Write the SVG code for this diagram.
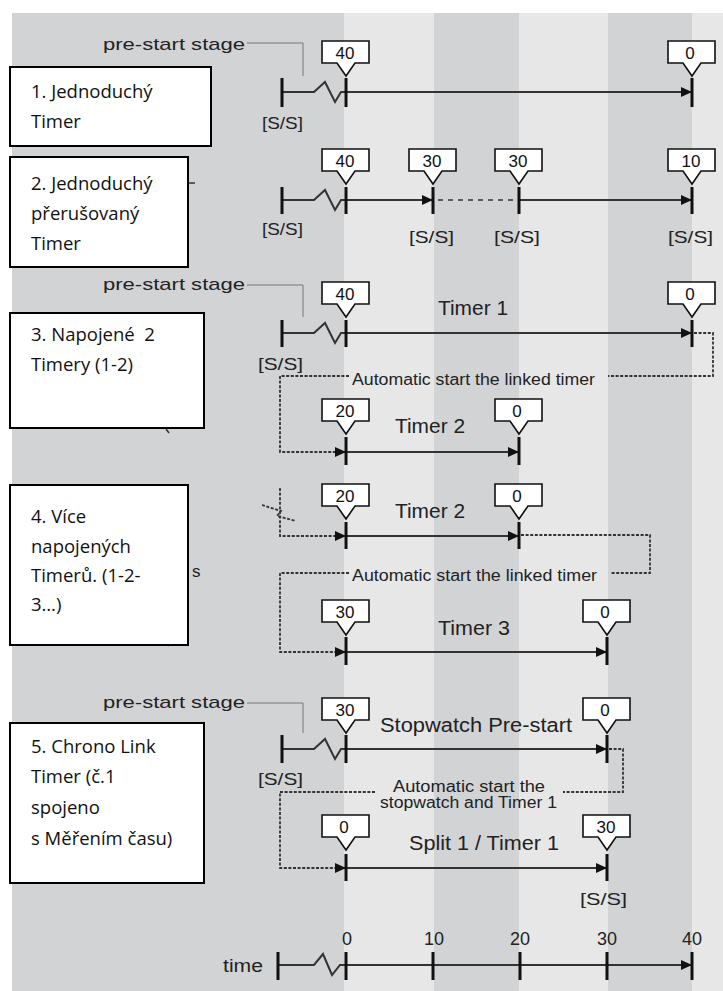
<svg xmlns="http://www.w3.org/2000/svg" xmlns:xlink="http://www.w3.org/1999/xlink" width="723" height="991" viewBox="0 0 723 991">
<style>
.lbl{font-family:"Liberation Sans",Arial,sans-serif;fill:#222;}
.num{font-family:"Liberation Sans",Arial,sans-serif;font-size:17px;fill:#111;text-anchor:middle;}
.box{fill:#fff;stroke:#111;stroke-width:1.6;}
.sh{fill:#666;}
.cz{font-family:"Open Sans","Noto Sans",sans-serif;font-size:18.5px;fill:#111;}
.ax{fill:none;stroke:#333;stroke-width:2;}
.tk{stroke:#111;stroke-width:3;}
.dash{fill:none;stroke:#333;stroke-width:1.8;stroke-dasharray:3 1.6;}
.lead{fill:none;stroke:#777;stroke-width:1;}
</style>
<defs>
<marker id="ar" markerUnits="userSpaceOnUse" markerWidth="12" markerHeight="12" refX="11" refY="5" orient="auto">
<path d="M0,0 L11,5 L0,10 z" fill="#111"/>
</marker>
<path id="mk" d="M-24,0 H23 V22 H9 L0,35 L-9,22 H-24 Z"/>
</defs>

<!-- background -->
<rect x="0" y="0" width="723" height="991" fill="#fff"/>
<rect x="12" y="13" width="711" height="978" fill="#d2d3d5"/>
<rect x="344" y="13" width="90" height="978" fill="#e7e7e8"/>
<rect x="519" y="13" width="89" height="978" fill="#e7e7e8"/>
<rect x="692" y="13" width="31" height="978" fill="#e7e7e8"/>

<!-- connectors -->
<g id="connectors">
<!-- row 1 -->
<path class="lead" d="M247,43 H303 V76"/>
<path class="ax" d="M282,92 H314 L325,82 L335,102 L341,92 H692" marker-end="url(#ar)"/>
<!-- row 2 -->
<path class="ax" d="M282,200 H314 L325,190 L335,210 L341,200 H433" marker-end="url(#ar)"/>
<path fill="none" stroke="#333" stroke-width="1.6" stroke-dasharray="5 5" d="M438,200 H519"/>
<path class="ax" d="M519,200 H692" marker-end="url(#ar)"/>
<path stroke="#333" stroke-width="1.5" d="M188,183 H195"/>
<!-- row 3 -->
<path class="lead" d="M247,285 H303 V317"/>
<path class="ax" d="M282,333 H314 L325,323 L335,343 L341,333 H692" marker-end="url(#ar)"/>
<path class="dash" d="M694,333 H713 V376 H608"/>
<path class="dash" d="M349,376 H280 V452 H346" marker-end="url(#ar)"/>
<!-- row 4 -->
<path class="ax" d="M346,452 H519" marker-end="url(#ar)"/>
<path stroke="#333" stroke-width="1.5" d="M166,429 L169,433"/>
<!-- row 5 -->
<path class="dash" d="M280,488 V536 H346" marker-end="url(#ar)"/>
<path class="dash" d="M262,505 L281,511 L277,516 L296,521"/>
<path class="ax" d="M346,536 H519" marker-end="url(#ar)"/>
<path class="dash" d="M521,535 H650 V573 H610"/>
<path class="dash" d="M349,573 H280 V652 H346" marker-end="url(#ar)"/>
<path stroke="#333" stroke-width="1.5" d="M166,642 L169,646"/>
<!-- row 6 -->
<path class="ax" d="M346,652 H607" marker-end="url(#ar)"/>
<!-- row 7 -->
<path class="lead" d="M247,703 H303 V733"/>
<path class="ax" d="M282,749 H314 L325,739 L335,759 L341,749 H607" marker-end="url(#ar)"/>
<path class="dash" d="M609,749 H623 V792 H563"/>
<path class="dash" d="M375,792 H280 V868 H346" marker-end="url(#ar)"/>
<!-- row 8 -->
<path class="ax" d="M346,868 H607" marker-end="url(#ar)"/>
<!-- time axis -->
<path class="ax" d="M278,965 H314 L323,954 L332,975 L340,965 H692" marker-end="url(#ar)"/>
</g>

<!-- ticks -->
<g id="ticks">
<path class="tk" d="M282,78 V107 M346,78 V107 M692,78 V107"/>
<path class="tk" d="M282,187 V214 M346,187 V214 M433,187 V214 M519,187 V214 M692,187 V214"/>
<path class="tk" d="M282,320 V347 M346,320 V347 M692,320 V347"/>
<path class="tk" d="M346,437 V465 M519,437 V465"/>
<path class="tk" d="M346,522 V549 M519,522 V549"/>
<path class="tk" d="M346,637 V665 M607,637 V665"/>
<path class="tk" d="M282,735 V763 M346,735 V763 M607,735 V763"/>
<path class="tk" d="M346,854 V881 M607,854 V881"/>
<path class="tk" d="M278,952 V980 M346,952 V980 M433,952 V980 M520,952 V980 M607,952 V980 M692,952 V980"/>
</g>

<!-- markers -->
<g id="markers">
<use href="#mk" class="box" x="346" y="41"/><text class="num" x="345" y="59">40</text>
<use href="#mk" class="box" x="692" y="41"/><text class="num" x="690" y="59">0</text>
<use href="#mk" class="box" x="346" y="149"/><text class="num" x="345" y="167">40</text>
<use href="#mk" class="box" x="433" y="149"/><text class="num" x="432" y="167">30</text>
<use href="#mk" class="box" x="519" y="149"/><text class="num" x="518" y="167">30</text>
<use href="#mk" class="box" x="692" y="149"/><text class="num" x="691" y="167">10</text>
<use href="#mk" class="box" x="346" y="282"/><text class="num" x="345" y="300">40</text>
<use href="#mk" class="box" x="692" y="282"/><text class="num" x="690" y="300">0</text>
<use href="#mk" class="box" x="346" y="399"/><text class="num" x="345" y="417">20</text>
<use href="#mk" class="box" x="519" y="399"/><text class="num" x="517" y="417">0</text>
<use href="#mk" class="box" x="346" y="484"/><text class="num" x="345" y="502">20</text>
<use href="#mk" class="box" x="519" y="484"/><text class="num" x="517" y="502">0</text>
<use href="#mk" class="box" x="346" y="600"/><text class="num" x="345" y="618">30</text>
<use href="#mk" class="box" x="607" y="600"/><text class="num" x="605" y="618">0</text>
<use href="#mk" class="box" x="346" y="698"/><text class="num" x="345" y="716">30</text>
<use href="#mk" class="box" x="607" y="698"/><text class="num" x="605" y="716">0</text>
<use href="#mk" class="box" x="346" y="815"/><text class="num" x="344" y="833">0</text>
<use href="#mk" class="box" x="607" y="815"/><text class="num" x="606" y="833">30</text>
</g>

<!-- diagram labels -->
<g id="labels">
<text class="lbl" x="103" y="50" font-size="17" textLength="142" lengthAdjust="spacingAndGlyphs">pre-start stage</text>
<text class="lbl" x="262" y="129" font-size="17" textLength="41" lengthAdjust="spacingAndGlyphs">[S/S]</text>
<text class="lbl" x="262" y="235" font-size="17" textLength="41" lengthAdjust="spacingAndGlyphs">[S/S]</text>
<text class="lbl" x="409" y="243" font-size="17" textLength="45" lengthAdjust="spacingAndGlyphs">[S/S]</text>
<text class="lbl" x="494" y="243" font-size="17" textLength="46" lengthAdjust="spacingAndGlyphs">[S/S]</text>
<text class="lbl" x="668" y="243" font-size="17" textLength="45" lengthAdjust="spacingAndGlyphs">[S/S]</text>
<text class="lbl" x="103" y="290" font-size="17" textLength="142" lengthAdjust="spacingAndGlyphs">pre-start stage</text>
<text class="lbl" x="438" y="315" font-size="20" textLength="70" lengthAdjust="spacingAndGlyphs">Timer 1</text>
<text class="lbl" x="258" y="370" font-size="17" textLength="45" lengthAdjust="spacingAndGlyphs">[S/S]</text>
<text class="lbl" x="352" y="385" font-size="16" textLength="243" lengthAdjust="spacingAndGlyphs">Automatic start the linked timer</text>
<text class="lbl" x="395" y="433" font-size="20" textLength="70" lengthAdjust="spacingAndGlyphs">Timer 2</text>
<text class="lbl" x="395" y="518" font-size="20" textLength="70" lengthAdjust="spacingAndGlyphs">Timer 2</text>
<text class="lbl" x="352" y="581" font-size="16" textLength="245" lengthAdjust="spacingAndGlyphs">Automatic start the linked timer</text>
<text class="lbl" x="192" y="577" font-size="17">s</text>
<text class="lbl" x="438" y="635" font-size="20" textLength="72" lengthAdjust="spacingAndGlyphs">Timer 3</text>
<text class="lbl" x="103" y="708" font-size="17" textLength="142" lengthAdjust="spacingAndGlyphs">pre-start stage</text>
<text class="lbl" x="380" y="732" font-size="20" textLength="192" lengthAdjust="spacingAndGlyphs">Stopwatch Pre-start</text>
<text class="lbl" x="258" y="785" font-size="17" textLength="45" lengthAdjust="spacingAndGlyphs">[S/S]</text>
<text class="lbl" x="393" y="792" font-size="16" textLength="152" lengthAdjust="spacingAndGlyphs">Automatic start the</text>
<text class="lbl" x="380" y="808" font-size="16" textLength="177" lengthAdjust="spacingAndGlyphs">stopwatch and Timer 1</text>
<text class="lbl" x="409" y="850" font-size="20" textLength="150" lengthAdjust="spacingAndGlyphs">Split 1 / Timer 1</text>
<text class="lbl" x="580" y="905" font-size="17" textLength="47" lengthAdjust="spacingAndGlyphs">[S/S]</text>
<text class="lbl" x="223" y="972" font-size="18" textLength="40" lengthAdjust="spacingAndGlyphs">time</text>
<g class="lbl" font-size="18" text-anchor="middle">
<text x="347" y="945">0</text>
<text x="434" y="945">10</text>
<text x="520" y="945">20</text>
<text x="607" y="945">30</text>
<text x="692" y="945">40</text>
</g>
</g>

<!-- annotation boxes -->
<g id="note1">
<rect x="10" y="67" width="201" height="79" fill="#fff" stroke="#000" stroke-width="2"/>
<text class="cz" x="31" y="98">1. Jednoduchý</text>
<text class="cz" x="31" y="128">Timer</text>
</g>
<g id="note2">
<rect x="10" y="157" width="178" height="110" fill="#fff" stroke="#000" stroke-width="2"/>
<text class="cz" x="31" y="190">2. Jednoduchý</text>
<text class="cz" x="31" y="220">přerušovaný</text>
<text class="cz" x="31" y="250">Timer</text>
</g>
<g id="note3">
<rect x="10" y="313" width="194" height="115" fill="#fff" stroke="#000" stroke-width="2"/>
<text class="cz" x="31" y="341" xml:space="preserve">3. Napojené  2</text>
<text class="cz" x="31" y="371">Timery (1-2)</text>
</g>
<g id="note4">
<rect x="10" y="485" width="178" height="160" fill="#fff" stroke="#000" stroke-width="2"/>
<text class="cz" x="31" y="523">4. Více</text>
<text class="cz" x="31" y="553">napojených</text>
<text class="cz" x="31" y="582">Timerů. (1-2-</text>
<text class="cz" x="31" y="611">3…)</text>
</g>
<g id="note5">
<rect x="10" y="723" width="194" height="160" fill="#fff" stroke="#000" stroke-width="2"/>
<text class="cz" x="31" y="753">5. Chrono Link</text>
<text class="cz" x="31" y="783">Timer (č.1</text>
<text class="cz" x="31" y="814">spojeno</text>
<text class="cz" x="31" y="845">s Měřením času)</text>
</g>
</svg>
